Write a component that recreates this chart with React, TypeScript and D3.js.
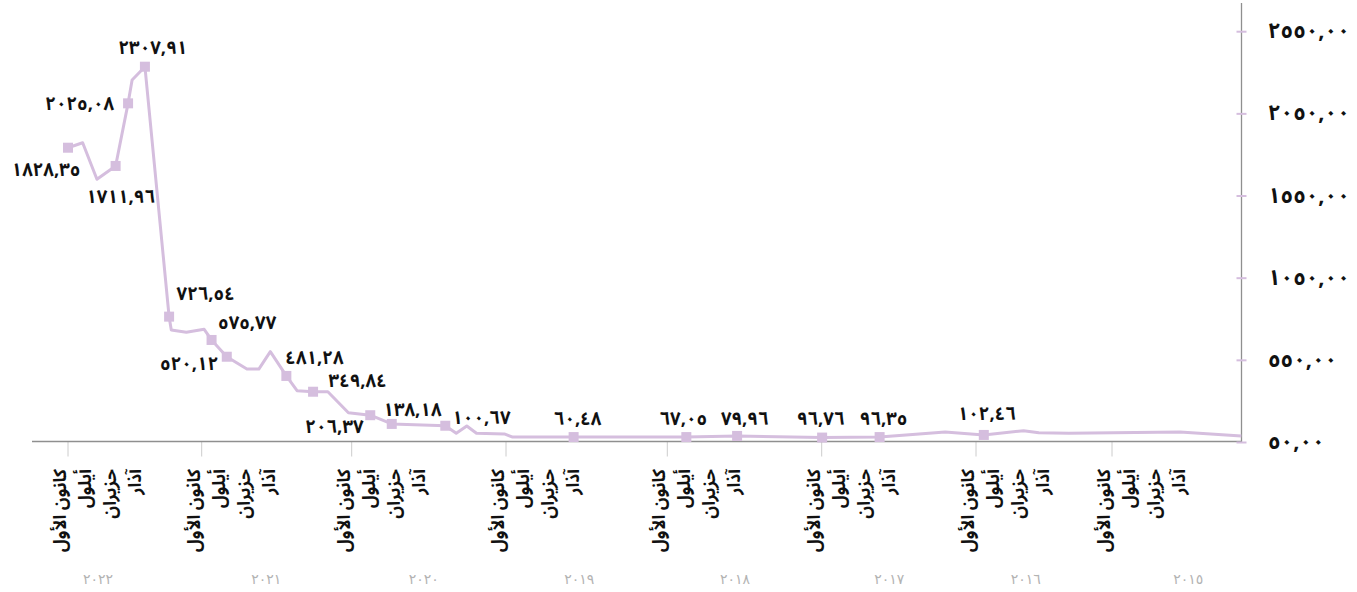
import React from 'react';
import * as d3 from 'd3';

// ---- data ----
const pointDates = [
  '2022-12-01', '2022-10-22', '2022-09-13', '2022-07-24', '2022-06-20', '2022-06-09',
  '2022-05-05', '2022-02-28', '2022-02-22', '2022-01-12', '2021-11-25', '2021-11-07',
  '2021-10-01', '2021-08-13', '2021-07-15', '2021-06-17', '2021-05-09', '2021-04-13',
  '2021-03-05', '2021-01-28', '2020-12-09', '2020-10-18', '2020-08-28', '2020-04-23',
  '2020-03-28', '2020-03-03', '2020-02-09', '2019-12-05', '2019-11-16', '2019-07-01',
  '2018-10-17', '2018-06-19', '2017-11-30', '2017-07-17', '2017-04-30', '2017-02-12',
  '2016-11-10', '2016-07-26', '2016-06-15', '2016-03-26', '2015-06-01', '2014-12-18',
];
const pointValues = [
  1844, 1874, 1652, 1733, 2114, 2256,
  2337, 816, 735, 721, 739, 674,
  572, 497, 497, 603, 455, 365,
  359, 359, 231, 216, 163, 152,
  106, 150, 106, 102, 83, 83,
  83, 90, 80, 83, 99, 114,
  96, 122, 110, 106, 114, 90,
];
const markerIndex = [0, 3, 4, 6, 7, 11, 12, 16, 18, 21, 22, 23, 29, 30, 31, 32, 33, 36];
const markerLabels = [
  1828.35, 1711.96, 2025.08, 2307.91, 726.54, 575.77, 520.12, 481.28, 349.84,
  206.37, 138.18, 100.67, 60.48, 67.05, 79.96, 96.76, 96.35, 102.46,
];
const yTicks = [50, 550, 1050, 1550, 2050, 2550];
const tickYears = [2022, 2021, 2020, 2019, 2018, 2017, 2016, 2015];
const monthLabels = ['كانون الأول', 'أيلول', 'حزيران', 'آذار'];
const yearLabelDates = [
  '2022-09-10', '2021-06-27', '2020-06-13', '2019-06-18',
  '2018-06-24', '2017-06-24', '2016-07-20', '2015-05-10',
];

// ---- layout ----
const W = 1357;
const H = 592;
const plotLeft = 32;
const plotRight = 1241.5;
const plotTop = 3;
const tickX = [68, 201.7, 351.7, 506, 667.3, 821.7, 976, 1112];
const labelPlacement: { a: string; dx: number; dy: number }[] = [
  { a: 'middle', dx: -22, dy: 28 },
  { a: 'middle', dx: 5, dy: 37 },
  { a: 'end', dx: -14, dy: 7 },
  { a: 'middle', dx: 8, dy: -12.5 },
  { a: 'start', dx: 7.5, dy: -16.5 },
  { a: 'start', dx: 6.5, dy: -11 },
  { a: 'end', dx: -8.5, dy: 13.3 },
  { a: 'start', dx: -1, dy: -12 },
  { a: 'start', dx: 15.5, dy: -4.5 },
  { a: 'end', dx: -6.7, dy: 18 },
  { a: 'start', dx: -8.4, dy: -7.5 },
  { a: 'start', dx: 7, dy: -1.5 },
  { a: 'middle', dx: 4, dy: -12 },
  { a: 'middle', dx: -3, dy: -12 },
  { a: 'middle', dx: 7.6, dy: -11 },
  { a: 'middle', dx: -1.4, dy: -12.5 },
  { a: 'middle', dx: 4, dy: -12 },
  { a: 'middle', dx: 3, dy: -15 },
];

const LINE = '#d5bede';
const FONT = "'Noto Sans Arabic', 'DejaVu Sans', sans-serif";

const toArabic = (s: string) => s.replace(/[0-9]/g, (d) => '٠١٢٣٤٥٦٧٨٩'[+d]);
const fmt = (v: number) => toArabic(v.toFixed(2).replace('.', ','));
const parse = d3.timeParse('%Y-%m-%d');

export default function App() {
  const x = d3
    .scaleTime()
    .domain(tickYears.map((yr) => new Date(yr, 11, 1)))
    .range(tickX);
  const y = d3.scaleLinear().domain([50, 2550]).range([442.5, 31.7]);

  const pts = pointDates.map((d, i) => ({ date: parse(d) as Date, v: pointValues[i] }));
  const line = d3
    .line<{ date: Date; v: number }>()
    .x((d) => x(d.date))
    .y((d) => y(d.v));

  const axisY = y(50) - 1;

  return (
    <svg
      width={W}
      height={H}
      style={{ position: 'absolute', left: 0, top: 0, background: '#fff' }}
      fontFamily={FONT}
    >
      {/* x ticks */}
      {tickYears.map((yr) => {
        const tx = x(new Date(yr, 11, 1));
        return <line key={yr} x1={tx} x2={tx} y1={axisY} y2={axisY + 15} stroke="#cccccc" strokeWidth={1} />;
      })}
      {/* axes */}
      <line x1={plotLeft} x2={plotRight} y1={axisY} y2={axisY} stroke="#8f8f8f" strokeWidth={1.3} />
      <line x1={plotRight} x2={plotRight} y1={plotTop} y2={y(50)} stroke="#8f8f8f" strokeWidth={1.3} />
      {/* y ticks + labels */}
      {yTicks.map((t) => (
        <g key={t}>
          <line x1={plotRight - 5} x2={plotRight + 5} y1={y(t)} y2={y(t)} stroke={LINE} strokeWidth={2} />
          <text x={1268} y={y(t)} dy="0.3em" fontSize={22} fontWeight="bold" fill="#111">
            {fmt(t)}
          </text>
        </g>
      ))}
      {/* month labels */}
      {tickYears.map((yr) => {
        const tx = x(new Date(yr, 11, 1));
        return (
          <g key={'m' + yr} transform={`translate(${tx},469) rotate(-90)`}>
            {monthLabels.map((m, i) => (
              <text key={i} x={0} y={-2 + i * 25} textAnchor="end" fontSize={17.5} fontWeight="bold" fill="#111">
                {m}
              </text>
            ))}
          </g>
        );
      })}
      {/* year labels */}
      {tickYears.map((yr, i) => (
        <text
          key={'y' + yr}
          x={x(parse(yearLabelDates[i]) as Date)}
          y={584}
          textAnchor="middle"
          fontSize={14}
          fontFamily="'DejaVu Sans', sans-serif"
          fill="#b3b3b3"
        >
          {toArabic(String(yr))}
        </text>
      ))}
      {/* line */}
      <path d={line(pts) || ''} fill="none" stroke={LINE} strokeWidth={3} strokeLinejoin="round" />
      {/* markers */}
      {markerIndex.map((idx) => (
        <rect key={'r' + idx} x={x(pts[idx].date) - 5} y={y(pts[idx].v) - 5} width={10} height={10} fill={LINE} />
      ))}
      {/* data labels */}
      {markerIndex.map((idx, k) => {
        const p = labelPlacement[k];
        return (
          <text
            key={'l' + idx}
            x={x(pts[idx].date) + p.dx}
            y={y(pts[idx].v) + p.dy}
            textAnchor={p.a as any}
            fontSize={18.5}
            fontWeight="bold"
            fill="#111"
          >
            {fmt(markerLabels[k])}
          </text>
        );
      })}
    </svg>
  );
}
